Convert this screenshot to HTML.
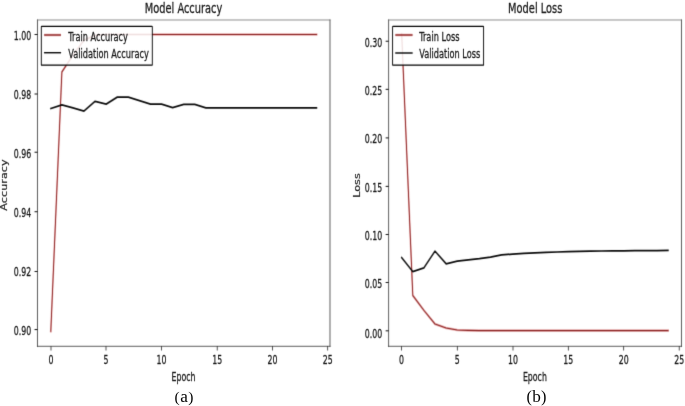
<!DOCTYPE html>
<html lang="en">
<head>
<meta charset="utf-8">
<title>Model Accuracy and Model Loss</title>
<style>
html,body{margin:0;padding:0;background:#fff;}
body{width:685px;height:406px;overflow:hidden;}
svg{display:block;}
.chart text{stroke:#1a1a1a;stroke-width:0.35px;}
</style>
</head>
<body>
<svg width="685" height="406" viewBox="0 0 685 406">
<rect x="0" y="0" width="685" height="406" fill="#ffffff"/>
<defs><filter id="soft" x="0" y="0" width="685" height="406" filterUnits="userSpaceOnUse" color-interpolation-filters="sRGB"><feConvolveMatrix order="3" kernelMatrix="0 1 0 1 5 1 0 1 0" edgeMode="none"/></filter>
<filter id="soft2" x="0" y="0" width="685" height="406" filterUnits="userSpaceOnUse" color-interpolation-filters="sRGB"><feConvolveMatrix order="3" kernelMatrix="0 1 0 1 10 1 0 1 0" edgeMode="none"/></filter>
</defs>
<g filter="url(#soft)">
<g transform="scale(0.565,0.81)">
<polyline points="89.91,409.01 109.52,88.89 129.12,68.02 148.72,49.51 168.33,43.7 187.93,42.59 560.4,42.59" fill="none" stroke="#cc4040" stroke-width="3.1" stroke-opacity="0.42" stroke-linejoin="round" stroke-linecap="square"/>
<polyline points="89.91,409.01 109.52,88.89 129.12,68.02 148.72,49.51 168.33,43.7 187.93,42.59 560.4,42.59" fill="none" stroke="#8a2424" stroke-width="1.5" stroke-opacity="1" stroke-linejoin="round" stroke-linecap="square"/>
<polyline points="89.91,133.95 109.52,129.38 129.12,133.21 148.72,137.16 168.33,125.06 187.93,128.52 207.53,119.88 227.14,119.88 246.74,124.2 266.34,128.52 285.95,128.52 305.55,132.84 325.15,128.77 344.76,128.77 364.36,133.09 383.96,133.09 403.57,133.09 423.17,133.09 442.78,133.09 462.38,133.09 481.98,133.09 501.59,133.09 521.19,133.09 540.79,133.09 560.4,133.09" fill="none" stroke="#0a0a0a" stroke-width="2.15" stroke-opacity="1" stroke-linejoin="round" stroke-linecap="square"/>
<line x1="66.37" y1="24.69" x2="66.37" y2="427.53" stroke="#2a2a2a" stroke-width="1.11" stroke-opacity="1" stroke-linecap="square"/>
<line x1="584.07" y1="24.69" x2="584.07" y2="427.53" stroke="#2a2a2a" stroke-width="1.11" stroke-opacity="1" stroke-linecap="square"/>
<line x1="66.37" y1="427.53" x2="584.07" y2="427.53" stroke="#2a2a2a" stroke-width="1.11" stroke-opacity="1" stroke-linecap="square"/>
<line x1="66.37" y1="24.69" x2="584.07" y2="24.69" stroke="#5a5a5a" stroke-width="1.0" stroke-opacity="1" stroke-linecap="square"/>
<line x1="90.27" y1="427.53" x2="90.27" y2="432.73" stroke="#151515" stroke-width="1.3" stroke-opacity="1" stroke-linecap="butt"/>
<line x1="187.61" y1="427.53" x2="187.61" y2="432.73" stroke="#151515" stroke-width="1.3" stroke-opacity="1" stroke-linecap="butt"/>
<line x1="285.84" y1="427.53" x2="285.84" y2="432.73" stroke="#151515" stroke-width="1.3" stroke-opacity="1" stroke-linecap="butt"/>
<line x1="384.42" y1="427.53" x2="384.42" y2="432.73" stroke="#151515" stroke-width="1.3" stroke-opacity="1" stroke-linecap="butt"/>
<line x1="482.12" y1="427.53" x2="482.12" y2="432.73" stroke="#151515" stroke-width="1.3" stroke-opacity="1" stroke-linecap="butt"/>
<line x1="580" y1="427.53" x2="580" y2="432.73" stroke="#151515" stroke-width="1.3" stroke-opacity="1" stroke-linecap="butt"/>
<line x1="61.17" y1="42.59" x2="66.37" y2="42.59" stroke="#151515" stroke-width="1.3" stroke-opacity="1" stroke-linecap="butt"/>
<line x1="61.17" y1="116.05" x2="66.37" y2="116.05" stroke="#151515" stroke-width="1.3" stroke-opacity="1" stroke-linecap="butt"/>
<line x1="61.17" y1="187.96" x2="66.37" y2="187.96" stroke="#151515" stroke-width="1.3" stroke-opacity="1" stroke-linecap="butt"/>
<line x1="61.17" y1="261.36" x2="66.37" y2="261.36" stroke="#151515" stroke-width="1.3" stroke-opacity="1" stroke-linecap="butt"/>
<line x1="61.17" y1="335.19" x2="66.37" y2="335.19" stroke="#151515" stroke-width="1.3" stroke-opacity="1" stroke-linecap="butt"/>
<line x1="61.17" y1="406.85" x2="66.37" y2="406.85" stroke="#151515" stroke-width="1.3" stroke-opacity="1" stroke-linecap="butt"/>
<rect x="73.1" y="32.47" width="196.46" height="48.02" rx="1.0" ry="0.7" fill="#fff" fill-opacity="0.86" stroke="#000" stroke-width="1.6"/>
<line x1="78.41" y1="43.21" x2="107.61" y2="43.21" stroke="#cc4040" stroke-width="3.1" stroke-opacity="0.42" stroke-linecap="butt"/>
<line x1="78.85" y1="43.21" x2="107.17" y2="43.21" stroke="#8a2424" stroke-width="1.6" stroke-opacity="1" stroke-linecap="square"/>
<line x1="78.85" y1="65.06" x2="107.17" y2="65.06" stroke="#0a0a0a" stroke-width="1.8" stroke-opacity="1" stroke-linecap="square"/>
<polyline points="710.97,41.98 730.62,364.81 750.27,383.21 769.91,400 789.56,404.94 809.2,407.41 828.85,407.9 848.5,408.15 868.14,408.15 887.79,408.15 907.43,408.15 927.08,408.15 946.73,408.15 966.37,408.15 986.02,408.15 1005.66,408.15 1025.31,408.15 1044.96,408.15 1064.6,408.15 1084.25,408.15 1103.89,408.15 1123.54,408.15 1143.19,408.15 1162.83,408.15 1182.48,408.15" fill="none" stroke="#cc4040" stroke-width="3.1" stroke-opacity="0.42" stroke-linejoin="round" stroke-linecap="square"/>
<polyline points="710.97,41.98 730.62,364.81 750.27,383.21 769.91,400 789.56,404.94 809.2,407.41 828.85,407.9 848.5,408.15 868.14,408.15 887.79,408.15 907.43,408.15 927.08,408.15 946.73,408.15 966.37,408.15 986.02,408.15 1005.66,408.15 1025.31,408.15 1044.96,408.15 1064.6,408.15 1084.25,408.15 1103.89,408.15 1123.54,408.15 1143.19,408.15 1162.83,408.15 1182.48,408.15" fill="none" stroke="#8a2424" stroke-width="1.5" stroke-opacity="1" stroke-linejoin="round" stroke-linecap="square"/>
<polyline points="710.97,318.02 730.62,335.43 750.27,330.74 769.91,310 789.56,325.68 809.2,322.35 828.85,320.74 848.5,319.38 868.14,317.41 887.79,314.69 907.43,313.7 927.08,312.72 946.73,312.1 966.37,311.6 986.02,311.11 1005.66,310.74 1025.31,310.37 1044.96,310.12 1064.6,309.88 1084.25,309.75 1103.89,309.63 1123.54,309.51 1143.19,309.38 1162.83,309.38 1182.48,309.26" fill="none" stroke="#0a0a0a" stroke-width="2.15" stroke-opacity="1" stroke-linejoin="round" stroke-linecap="square"/>
<line x1="687.79" y1="24.69" x2="687.79" y2="427.53" stroke="#2a2a2a" stroke-width="1.11" stroke-opacity="1" stroke-linecap="square"/>
<line x1="1206.19" y1="24.69" x2="1206.19" y2="427.53" stroke="#2a2a2a" stroke-width="1.11" stroke-opacity="1" stroke-linecap="square"/>
<line x1="687.79" y1="427.53" x2="1206.19" y2="427.53" stroke="#2a2a2a" stroke-width="1.11" stroke-opacity="1" stroke-linecap="square"/>
<line x1="687.79" y1="24.69" x2="1206.19" y2="24.69" stroke="#5a5a5a" stroke-width="1.0" stroke-opacity="1" stroke-linecap="square"/>
<line x1="710.8" y1="427.53" x2="710.8" y2="432.73" stroke="#151515" stroke-width="1.3" stroke-opacity="1" stroke-linecap="butt"/>
<line x1="809.38" y1="427.53" x2="809.38" y2="432.73" stroke="#151515" stroke-width="1.3" stroke-opacity="1" stroke-linecap="butt"/>
<line x1="907.96" y1="427.53" x2="907.96" y2="432.73" stroke="#151515" stroke-width="1.3" stroke-opacity="1" stroke-linecap="butt"/>
<line x1="1005.84" y1="427.53" x2="1005.84" y2="432.73" stroke="#151515" stroke-width="1.3" stroke-opacity="1" stroke-linecap="butt"/>
<line x1="1103.89" y1="427.53" x2="1103.89" y2="432.73" stroke="#151515" stroke-width="1.3" stroke-opacity="1" stroke-linecap="butt"/>
<line x1="1202.12" y1="427.53" x2="1202.12" y2="432.73" stroke="#151515" stroke-width="1.3" stroke-opacity="1" stroke-linecap="butt"/>
<line x1="682.59" y1="50.93" x2="687.79" y2="50.93" stroke="#151515" stroke-width="1.3" stroke-opacity="1" stroke-linecap="butt"/>
<line x1="682.59" y1="110.31" x2="687.79" y2="110.31" stroke="#151515" stroke-width="1.3" stroke-opacity="1" stroke-linecap="butt"/>
<line x1="682.59" y1="170.25" x2="687.79" y2="170.25" stroke="#151515" stroke-width="1.3" stroke-opacity="1" stroke-linecap="butt"/>
<line x1="682.59" y1="230.12" x2="687.79" y2="230.12" stroke="#151515" stroke-width="1.3" stroke-opacity="1" stroke-linecap="butt"/>
<line x1="682.59" y1="289.51" x2="687.79" y2="289.51" stroke="#151515" stroke-width="1.3" stroke-opacity="1" stroke-linecap="butt"/>
<line x1="682.59" y1="348.77" x2="687.79" y2="348.77" stroke="#151515" stroke-width="1.3" stroke-opacity="1" stroke-linecap="butt"/>
<line x1="682.59" y1="408.4" x2="687.79" y2="408.4" stroke="#151515" stroke-width="1.3" stroke-opacity="1" stroke-linecap="butt"/>
<rect x="694.87" y="32.47" width="161.06" height="48.02" rx="1.0" ry="0.7" fill="#fff" fill-opacity="0.86" stroke="#000" stroke-width="1.6"/>
<line x1="700" y1="43.21" x2="729.91" y2="43.21" stroke="#cc4040" stroke-width="3.1" stroke-opacity="0.42" stroke-linecap="butt"/>
<line x1="700.44" y1="43.21" x2="729.47" y2="43.21" stroke="#8a2424" stroke-width="1.6" stroke-opacity="1" stroke-linecap="square"/>
<line x1="700.44" y1="65.43" x2="729.47" y2="65.43" stroke="#0a0a0a" stroke-width="1.8" stroke-opacity="1" stroke-linecap="square"/>
</g>
</g>
<g filter="url(#soft2)">
<g class="chart" transform="scale(0.565,0.81)" font-family="'DejaVu Sans','Liberation Sans',sans-serif" fill="#1a1a1a">
<text transform="translate(90.27,449.75) scale(1.0,1.035)" font-size="13.89" text-anchor="middle">0</text>
<text transform="translate(187.61,449.75) scale(1.0,1.035)" font-size="13.89" text-anchor="middle">5</text>
<text transform="translate(285.84,449.75) scale(1.0,1.035)" font-size="13.89" text-anchor="middle">10</text>
<text transform="translate(384.42,449.75) scale(1.0,1.035)" font-size="13.89" text-anchor="middle">15</text>
<text transform="translate(482.12,449.75) scale(1.0,1.035)" font-size="13.89" text-anchor="middle">20</text>
<text transform="translate(580,449.75) scale(1.0,1.035)" font-size="13.89" text-anchor="middle">25</text>
<text transform="translate(55.22,49.75) scale(1.0,1.035)" font-size="13.89" text-anchor="end">1.00</text>
<text transform="translate(55.22,122.59) scale(1.0,1.035)" font-size="13.89" text-anchor="end">0.98</text>
<text transform="translate(55.22,195.43) scale(1.0,1.035)" font-size="13.89" text-anchor="end">0.96</text>
<text transform="translate(55.22,268.27) scale(1.0,1.035)" font-size="13.89" text-anchor="end">0.94</text>
<text transform="translate(55.22,341.11) scale(1.0,1.035)" font-size="13.89" text-anchor="end">0.92</text>
<text transform="translate(55.22,413.95) scale(1.0,1.035)" font-size="13.89" text-anchor="end">0.90</text>
<text transform="translate(324.78,15.68) scale(1.045,1.035)" font-size="16.67" text-anchor="middle">Model Accuracy</text>
<text transform="translate(324.78,470.37) scale(1.0,1.035)" font-size="13.89" text-anchor="middle">Epoch</text>
<text transform="translate(11.86,228.4) rotate(-90) scale(1.0,1.0)" font-size="13.89" text-anchor="middle" style="stroke-width:0.3px">Accuracy</text>
<text transform="translate(120.88,50.37) scale(1.045,1.035)" font-size="13.89" text-anchor="start">Train Accuracy</text>
<text transform="translate(120.88,71.73) scale(1.045,1.035)" font-size="13.89" text-anchor="start">Validation Accuracy</text>
<text transform="translate(710.8,449.75) scale(1.0,1.035)" font-size="13.89" text-anchor="middle">0</text>
<text transform="translate(809.38,449.75) scale(1.0,1.035)" font-size="13.89" text-anchor="middle">5</text>
<text transform="translate(907.96,449.75) scale(1.0,1.035)" font-size="13.89" text-anchor="middle">10</text>
<text transform="translate(1005.84,449.75) scale(1.0,1.035)" font-size="13.89" text-anchor="middle">15</text>
<text transform="translate(1103.89,449.75) scale(1.0,1.035)" font-size="13.89" text-anchor="middle">20</text>
<text transform="translate(1202.12,449.75) scale(1.0,1.035)" font-size="13.89" text-anchor="middle">25</text>
<text transform="translate(676.64,58.02) scale(1.0,1.035)" font-size="13.89" text-anchor="end">0.30</text>
<text transform="translate(676.64,117.53) scale(1.0,1.035)" font-size="13.89" text-anchor="end">0.25</text>
<text transform="translate(676.64,177.04) scale(1.0,1.035)" font-size="13.89" text-anchor="end">0.20</text>
<text transform="translate(676.64,236.91) scale(1.0,1.035)" font-size="13.89" text-anchor="end">0.15</text>
<text transform="translate(676.64,296.79) scale(1.0,1.035)" font-size="13.89" text-anchor="end">0.10</text>
<text transform="translate(676.64,356.05) scale(1.0,1.035)" font-size="13.89" text-anchor="end">0.05</text>
<text transform="translate(676.64,416.91) scale(1.0,1.035)" font-size="13.89" text-anchor="end">0.00</text>
<text transform="translate(947.26,15.68) scale(1.045,1.035)" font-size="16.67" text-anchor="middle">Model Loss</text>
<text transform="translate(946.73,470.37) scale(1.0,1.035)" font-size="13.89" text-anchor="middle">Epoch</text>
<text transform="translate(637.17,229.01) rotate(-90) scale(1.0,1.0)" font-size="13.89" text-anchor="middle" style="stroke-width:0.3px">Loss</text>
<text transform="translate(741.95,50.25) scale(1.045,1.035)" font-size="13.89" text-anchor="start">Train Loss</text>
<text transform="translate(741.95,71.48) scale(1.045,1.035)" font-size="13.89" text-anchor="start">Validation Loss</text>
</g>
</g>
<text x="184.0" y="401.8" font-family="'Liberation Serif',serif" font-size="17.2" text-anchor="middle" fill="#000"><tspan font-size="15.5" dy="0.3">(</tspan><tspan dx="0.45" dy="-0.3">a</tspan><tspan font-size="15.5" dx="0.45" dy="0.3">)</tspan></text>
<text x="536.5" y="401.6" font-family="'Liberation Serif',serif" font-size="17.2" text-anchor="middle" fill="#000"><tspan font-size="16.3" dy="0.1">(</tspan><tspan dx="0.3" dy="-0.1">b</tspan><tspan font-size="16.3" dx="0.3" dy="0.1">)</tspan></text>
</svg>
</body>
</html>
